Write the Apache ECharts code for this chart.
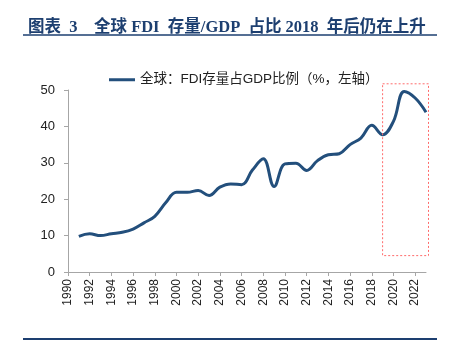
<!DOCTYPE html>
<html>
<head>
<meta charset="utf-8">
<script src="https://cdn.jsdelivr.net/npm/echarts@6/dist/echarts.min.js"></script>
<style>
html,body{margin:0;padding:0;background:#fff;}
#c{width:449px;height:361px;}
</style>
</head>
<body>
<div id="c"></div>
<script>
var titleText = '图表  3    全球 FDI  存量/GDP  占比 2018  年后仍在上升';
var seriesName = '全球：FDI存量占GDP比例（%，左轴）';
var years = ['1990','1991','1992','1993','1994','1995','1996','1997','1998','1999','2000','2001','2002','2003','2004','2005','2006','2007','2008','2009','2010','2011','2012','2013','2014','2015','2016','2017','2018','2019','2020','2021','2022','2023'];
var fdiRatio = [null,9.8,10.5,10.0,10.5,10.9,11.8,13.5,15.3,19.0,21.9,21.9,22.4,21.0,23.3,24.2,24.0,28.0,31.1,23.5,29.7,29.9,27.9,30.6,32.2,32.5,35.0,36.8,40.3,37.7,41.4,49.6,47.8,43.9];
var yTicks = {min:0, max:50, interval:10};
var highlightStart = '2019';
var highlightYMin = 4.5;
var highlightYMax = 51.7;

var chart = echarts.init(document.getElementById('c'), null, {renderer:'canvas'});
var option = {
  animation:false,
  backgroundColor:'#fff',
  title:{
    text:titleText,
    left:23, top:14,
    textStyle:{fontFamily:'"Liberation Serif","Noto Sans CJK SC",serif',fontWeight:'bold',fontSize:16.5,color:'#1d3f70'}
  },
  legend:{
    top:68, left:104,
    itemWidth:26, itemHeight:3, itemGap:4,
    icon:'rect',
    textStyle:{fontFamily:'"Liberation Sans","Noto Sans CJK SC",sans-serif',fontSize:13.5,color:'#222'},
    data:[seriesName]
  },
  grid:{left:68, right:23, top:90, bottom:89},
  xAxis:{
    type:'category',
    data:years,
    boundaryGap:false,
    axisLine:{lineStyle:{color:'#a6a6a6',width:1}},
    axisTick:{show:true,interval:1,length:4,inside:false,lineStyle:{color:'#a6a6a6'}},
    axisLabel:{interval:1,rotate:90,margin:7,fontFamily:'"Liberation Sans",Arial,sans-serif',fontSize:12,color:'#222'},
    splitLine:{show:false}
  },
  yAxis:{
    type:'value',
    min:yTicks.min, max:yTicks.max, interval:yTicks.interval,
    axisLine:{show:true,lineStyle:{color:'#a6a6a6',width:1}},
    axisTick:{show:true,length:4,lineStyle:{color:'#a6a6a6'}},
    axisLabel:{margin:13,fontFamily:'"Liberation Sans",Arial,sans-serif',fontSize:13,color:'#222'},
    splitLine:{show:false}
  },
  series:[{
    name:seriesName,
    type:'line',
    data:fdiRatio,
    smooth:0.4,
    showSymbol:false,
    symbol:'none',
    connectNulls:false,
    lineStyle:{color:'#234f7c',width:3},
    itemStyle:{color:'#234f7c'}
  }]
};
chart.setOption(option);

var p1 = chart.convertToPixel({xAxisIndex:0,yAxisIndex:0},[highlightStart, highlightYMax]);
var p2 = chart.convertToPixel({xAxisIndex:0,yAxisIndex:0},[years[years.length-1], highlightYMin]);
var padRight = 2.5;
chart.setOption({
  graphic:[
    {type:'rect',shape:{x:p1[0],y:p1[1],width:p2[0]+padRight-p1[0],height:p2[1]-p1[1]},
     style:{fill:'none',stroke:'#ff6b6b',lineWidth:1,lineDash:[2,2]},z:10},
    {type:'line',shape:{x1:23,y1:35,x2:437,y2:35},style:{stroke:'#1d3f70',lineWidth:1.5},z:10},
    {type:'line',shape:{x1:23,y1:339,x2:437,y2:339},style:{stroke:'#1d3f70',lineWidth:2},z:10}
  ]
});
</script>
</body>
</html>
